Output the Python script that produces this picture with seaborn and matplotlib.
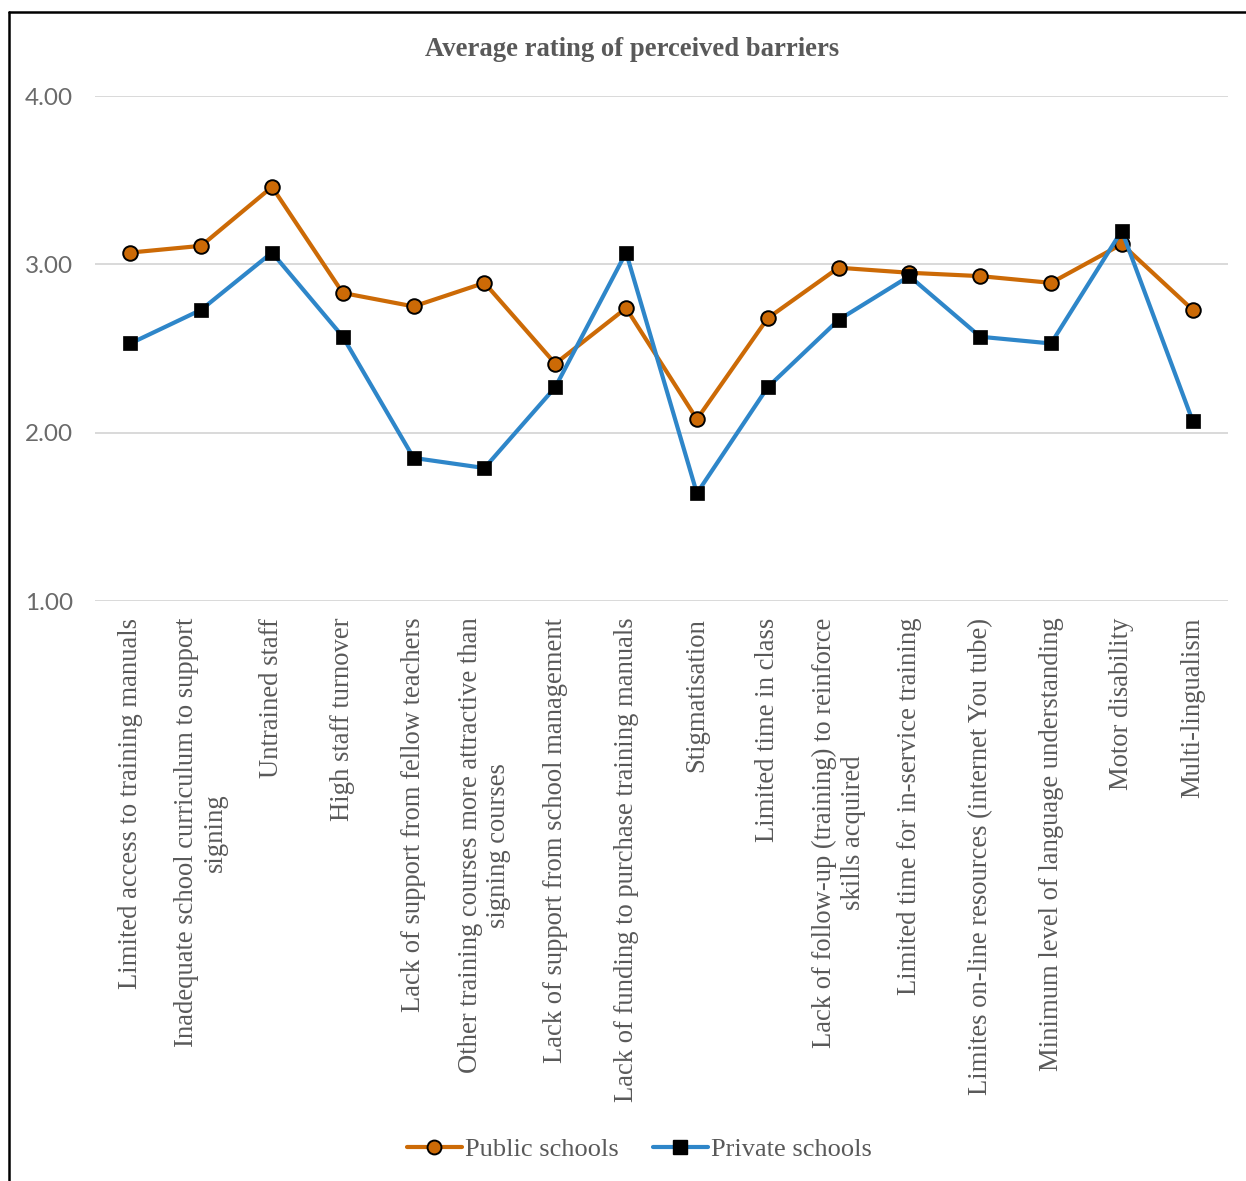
import matplotlib
matplotlib.use("Agg")
import matplotlib.pyplot as plt
from matplotlib.lines import Line2D
import seaborn as sns
import pandas as pd

barriers = [
    "Limited access to training manuals",
    "Inadequate school curriculum to support\nsigning",
    "Untrained staff",
    "High staff turnover",
    "Lack of support from fellow teachers",
    "Other training courses more attractive than\nsigning courses",
    "Lack of support from school management",
    "Lack of funding to purchase training manuals",
    "Stigmatisation",
    "Limited time in class",
    "Lack of follow-up (training) to reinforce\nskills acquired",
    "Limited time for in-service training",
    "Limites on-line resources (internet You tube)",
    "Minimum level of language understanding",
    "Motor disability",
    "Multi-lingualism",
]
public_schools = [3.07, 3.11, 3.46, 2.83, 2.75, 2.89, 2.41, 2.74,
                  2.08, 2.68, 2.98, 2.95, 2.93, 2.89, 3.12, 2.73]
private_schools = [2.53, 2.73, 3.07, 2.57, 1.85, 1.79, 2.27, 3.07,
                   1.64, 2.27, 2.67, 2.93, 2.57, 2.53, 3.20, 2.07]
y_ticks = [1.00, 2.00, 3.00, 4.00]

ORANGE = "#CC6A06"
BLUE = "#2E86C9"
GREY = "#595959"

sns.set_theme(style="white")
plt.rcParams["font.family"] = ["Liberation Serif", "DejaVu Serif"]

df = pd.DataFrame({
    "pos": list(range(len(barriers))) * 2,
    "rating": public_schools + private_schools,
    "school": ["Public schools"] * len(barriers) + ["Private schools"] * len(barriers),
})

fig = plt.figure(figsize=(12.46, 11.81), dpi=100)
ax = fig.add_axes([0.0762, 0.4911, 0.9094, 0.4276])

# grid lines behind the series
for t in y_ticks:
    ax.axhline(t, color="#D9D9D9", lw=1.4, zorder=0)

sns.lineplot(data=df[df.school == "Public schools"], x="pos", y="rating",
             color=ORANGE, lw=3.0, marker="o", markersize=10.5,
             markerfacecolor=ORANGE, markeredgecolor="black", markeredgewidth=1.4,
             ax=ax, legend=False, zorder=3)
sns.lineplot(data=df[df.school == "Private schools"], x="pos", y="rating",
             color=BLUE, lw=3.0, marker="s", markersize=9.5,
             markerfacecolor="black", markeredgecolor="black", markeredgewidth=0.5,
             ax=ax, legend=False, zorder=4)

ax.set_xlim(-0.5, len(barriers) - 0.5)
ax.set_ylim(1.0, 4.0)
ax.set_yticks(y_ticks)
ax.set_yticklabels([f"{t:.2f}" for t in y_ticks], fontfamily="Lato",
                   fontweight="normal", fontsize=17.5, color="#6A6A6A")
ax.set_xticks(range(len(barriers)))
ax.set_xticklabels(barriers, rotation=90, ha="center", va="top",
                   multialignment="center", fontsize=19.2, color=GREY)
ax.tick_params(axis="y", length=0, pad=16)
ax.tick_params(axis="x", length=0, pad=12)
ax.set_xlabel("")
ax.set_ylabel("")
for s in ax.spines.values():
    s.set_visible(False)
ax.grid(False)

fig.text(0.507, 0.958, "Average rating of perceived barriers", ha="center",
         va="center", fontsize=19.2, fontweight="bold", color=GREY)

handles = [
    Line2D([], [], color=ORANGE, lw=3.0, marker="o", markersize=10,
           markerfacecolor=ORANGE, markeredgecolor="black", markeredgewidth=1.4),
    Line2D([], [], color=BLUE, lw=3.0, marker="s", markersize=9.5,
           markerfacecolor="black", markeredgecolor="black"),
]
fig.legend(handles, ["Public schools", "Private schools"], loc="center",
           bbox_to_anchor=(0.513, 0.027), ncol=2, frameon=False, fontsize=19,
           labelcolor=GREY, handlelength=2.1, handletextpad=0.1,
           columnspacing=1.3)

# frame along the left and top of the figure
fig.add_artist(Line2D([0.0072, 0.0072], [0.0, 0.9898], color="black", lw=1.8,
                      transform=fig.transFigure))
fig.add_artist(Line2D([0.0072, 1.0], [0.9898, 0.9898], color="black", lw=1.8,
                      transform=fig.transFigure))

fig.savefig("out.png", dpi=100)
